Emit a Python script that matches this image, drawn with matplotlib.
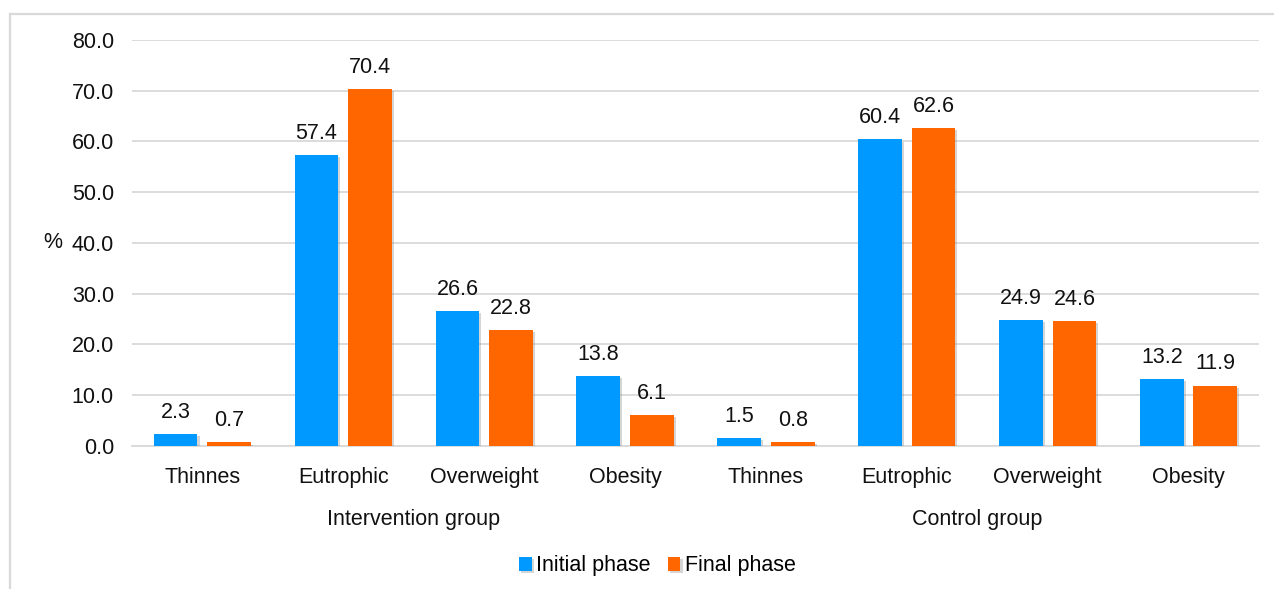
import matplotlib.pyplot as plt
import matplotlib.patheffects as pe
import numpy as np

plt.rcParams['font.family'] = ['Liberation Sans', 'DejaVu Sans']

categories = ['Thinnes', 'Eutrophic', 'Overweight', 'Obesity',
              'Thinnes', 'Eutrophic', 'Overweight', 'Obesity']
groups = ['Intervention group', 'Control group']
initial_phase = [2.3, 57.4, 26.6, 13.8, 1.5, 60.4, 24.9, 13.2]
final_phase = [0.7, 70.4, 22.8, 6.1, 0.8, 62.6, 24.6, 11.9]
y_ticks = [0, 10, 20, 30, 40, 50, 60, 70, 80]

blue = '#0099FF'
orange = '#FF6600'
grid_col = '#D9D9D9'
txt_col = '#111111'
fs = 15.5

fig = plt.figure(figsize=(12.74, 5.89), dpi=100)
ax = fig.add_axes([0.1036, 0.2428, 0.8846, 0.6893])

x = np.arange(len(categories))
w = 0.31
gap = 0.07
shadow = [pe.SimplePatchShadow(offset=(1.5, -1.5), shadow_rgbFace='#888888', alpha=0.35), pe.Normal()]

b1 = ax.bar(x - (w + gap) / 2, initial_phase, w, color=blue, label='Initial phase', zorder=3)
b2 = ax.bar(x + (w + gap) / 2, final_phase, w, color=orange, label='Final phase', zorder=3)
for bars in (b1, b2):
    for p in bars:
        p.set_path_effects(shadow)
    ax.bar_label(bars, labels=[f'{v:.1f}' for v in bars.datavalues],
                 padding=8, fontsize=fs, color=txt_col)

ax.set_xlim(-0.5, len(categories) - 0.5)
ax.set_ylim(0, 80)
ax.set_yticks(y_ticks)
ax.set_yticklabels([f'{v:.1f}' for v in y_ticks], fontsize=fs, color=txt_col)
ax.yaxis.grid(True, color=grid_col, linewidth=1.3, zorder=0)
ax.set_axisbelow(True)
ax.tick_params(axis='y', length=0, pad=13)
ax.tick_params(axis='x', length=0, pad=15)
ax.set_xticks(x)
ax.set_xticklabels(categories, fontsize=fs, color=txt_col)
for s in ['top', 'right', 'left']:
    ax.spines[s].set_visible(False)
ax.spines['bottom'].set_color(grid_col)
ax.spines['bottom'].set_linewidth(1.3)

ax.set_ylabel('%', rotation=0, fontsize=fs, color=txt_col, va='center')
ax.yaxis.set_label_coords(-0.07, 0.5)

# group names under the category labels
for i, g in enumerate(groups):
    ax.text(i * 4 + 1.5, -0.18, g, transform=ax.get_xaxis_transform(),
            ha='center', va='center', fontsize=fs, color=txt_col)

ax.legend(loc='center', bbox_to_anchor=(0.466, -0.295), ncol=2, frameon=False,
          fontsize=fs, handlelength=0.6, handleheight=0.6, handletextpad=0.2,
          columnspacing=0.8)

# light frame around the chart area
fx0 = 10 / 1274
fy1 = 1 - 14 / 589
fig.add_artist(plt.Line2D([fx0, fx0], [0, fy1], transform=fig.transFigure,
                          color=grid_col, linewidth=1.6))
fig.add_artist(plt.Line2D([fx0, 1], [fy1, fy1], transform=fig.transFigure,
                          color=grid_col, linewidth=1.6))

fig.savefig('out.png', dpi=100)
